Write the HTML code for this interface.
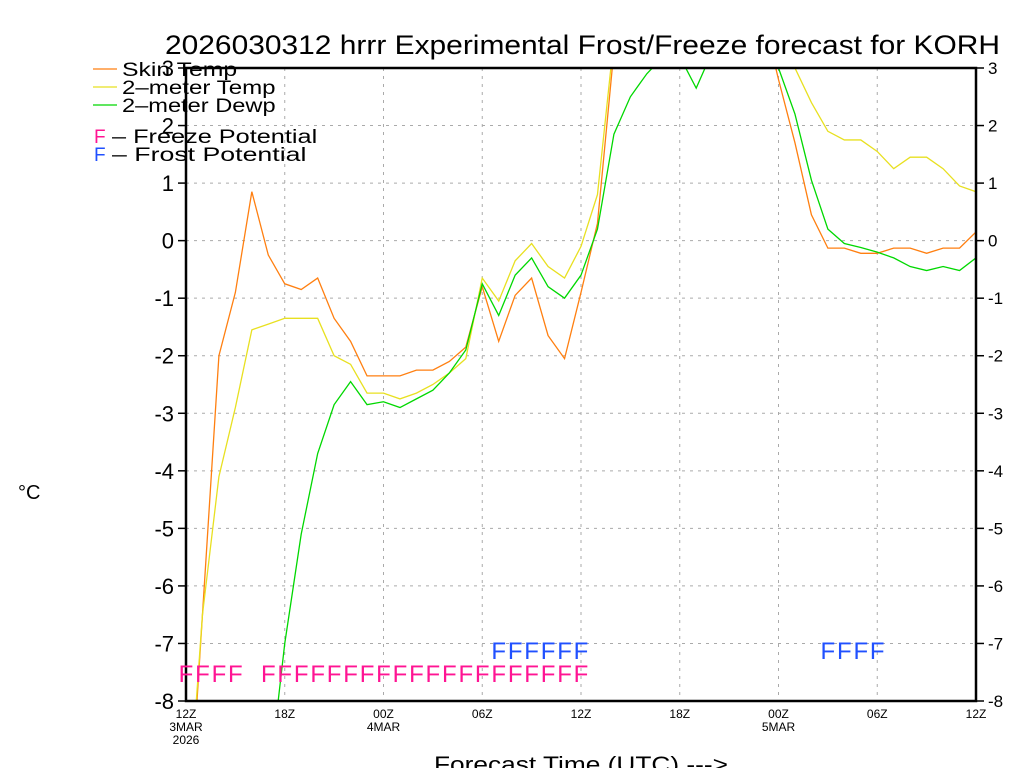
<!DOCTYPE html>
<html><head><meta charset="utf-8"><style>
html,body{margin:0;padding:0;background:#fff;width:1024px;height:768px;overflow:hidden}
svg{overflow:hidden;display:block}
svg text{font-family:"Liberation Sans",sans-serif}
</style></head><body>
<svg id="chart" width="1024" height="768" xmlns="http://www.w3.org/2000/svg">
<defs><clipPath id="plotclip"><rect x="186" y="68" width="790" height="633"/></clipPath>
<clipPath id="pageclip"><rect x="0" y="0" width="1024" height="768"/></clipPath></defs>
<g clip-path="url(#pageclip)">
<text x="165" y="54" font-size="27" textLength="835" lengthAdjust="spacingAndGlyphs">2026030312 hrrr Experimental Frost/Freeze forecast for KORH</text>
<text x="18" y="499" font-size="20">°C</text>
<text x="434" y="772" font-size="22" textLength="294" lengthAdjust="spacingAndGlyphs">Forecast Time (UTC) ---&gt;</text>
</g>
<g id="grid"></g>
<g id="series" clip-path="url(#plotclip)"></g>
<rect x="186" y="68" width="790" height="633" fill="none" stroke="#000" stroke-width="2.5"/>
<g id="axes"></g>
<g id="marks"></g>
<g id="legend"></g>
</svg>
<script>
const hours = [];
for (let i = 0; i <= 48; i++) hours.push(i);
const skinTemp = [-11,-6.5,-2.0,-0.9,0.85,-0.25,-0.75,-0.85,-0.65,-1.35,-1.75,-2.35,-2.35,-2.35,-2.25,-2.25,-2.1,-1.85,-0.8,-1.75,-0.95,-0.65,-1.65,-2.05,-0.9,0.3,3.3,5,5.5,5.5,5.5,5.5,5.5,5.5,5,4,2.8,1.7,0.45,-0.13,-0.13,-0.22,-0.22,-0.13,-0.13,-0.22,-0.13,-0.13,0.15];
const airTemp = [-10.5,-6.5,-4.1,-2.9,-1.55,-1.45,-1.35,-1.35,-1.35,-2.0,-2.15,-2.65,-2.65,-2.75,-2.65,-2.5,-2.3,-2.05,-0.65,-1.05,-0.35,-0.05,-0.45,-0.65,-0.1,0.8,3.5,5,5.5,5.5,5.5,5.5,5.5,5.5,5,4.5,3.8,3.0,2.4,1.9,1.75,1.75,1.55,1.25,1.45,1.45,1.25,0.95,0.85];
const dewPoint = [-16,-15,-14,-13,-12,-9.5,-7.0,-5.1,-3.7,-2.85,-2.45,-2.85,-2.8,-2.9,-2.75,-2.6,-2.3,-1.9,-0.75,-1.3,-0.6,-0.3,-0.8,-1.0,-0.6,0.2,1.85,2.5,2.9,3.2,3.2,2.65,3.3,3.5,3.5,3.4,3.0,2.2,1.05,0.2,-0.05,-0.12,-0.2,-0.3,-0.45,-0.52,-0.45,-0.52,-0.3];
const freezeHours = [0,1,2,3,5,6,7,8,9,10,11,12,13,14,15,16,17,18,19,20,21,22,23,24];
const frostHours = [19,20,21,22,23,24,39,40,41,42];
const yTicks = [-8,-7,-6,-5,-4,-3,-2,-1,0,1,2,3];
const xTickHours = [0,6,12,18,24,30,36,42,48];
const xTickLabels = ["12Z","18Z","00Z","06Z","12Z","18Z","00Z","06Z","12Z"];
const xDateLabels = {0:["3MAR","2026"],12:["4MAR"],36:["5MAR"]};

const X0=186,X1=976,Y0=701,Y1=68,YMIN=-8,YMAX=3,HMAX=48;
const xs = h => X0 + (X1-X0)*h/HMAX;
const ys = v => Y0 - (Y0-Y1)*(v-YMIN)/(YMAX-YMIN);
const NS="http://www.w3.org/2000/svg";
function mk(tag, parent, attrs){const e=document.createElementNS(NS,tag);for(const k in attrs)e.setAttribute(k,attrs[k]);parent.appendChild(e);return e;}

const grid=document.getElementById('grid'), axes=document.getElementById('axes');
yTicks.forEach(v=>{
  const y=ys(v);
  if(v>YMIN&&v<YMAX){const g=mk('line',grid,{x1:X0,x2:X1,y1:y,y2:y,stroke:'#aaa','stroke-dasharray':'3,5'});
  
  }
  const t1=mk('line',axes,{x1:X0-8,x2:X0,y1:y,y2:y,stroke:'#000','stroke-width':1.5});
  
  
  const t2=mk('line',axes,{x1:X1,x2:X1+8,y1:y,y2:y,stroke:'#000','stroke-width':1.5});
  
  
  const l=mk('text',axes,{x:X0-12,y:y+8,'font-size':22,'text-anchor':'end'});
  l.textContent=v;
  
  
  const r=mk('text',axes,{x:X1+12,y:y+6,'font-size':17});
  r.textContent=v;
  
  
});
xTickHours.forEach((h,i)=>{
  const x=xs(h);
  if(h>0&&h<HMAX){const g=mk('line',grid,{x1:x,x2:x,y1:Y1,y2:Y0,stroke:'#aaa','stroke-dasharray':'3,5'});
  
  }
  const l=mk('text',axes,{x:x,y:718,'font-size':12,'text-anchor':'middle'});
  l.textContent=xTickLabels[i];
  
  
  (xDateLabels[h]||[]).forEach((d,j)=>{
    const dl=mk('text',axes,{x:x,y:731+j*13,'font-size':12,'text-anchor':'middle'});
    dl.textContent=d;
    
    
  });
});

const series=document.getElementById('series');
[[skinTemp,'#ff7f10','skin-temp-line'],[airTemp,'#e8e020','air-temp-line'],[dewPoint,'#00d800','dewpoint-line']].forEach(([arr,col,name])=>{
  const p=mk('polyline',series,{points:arr.map((v,i)=>xs(hours[i])+','+ys(v)).join(' '),fill:'none',stroke:col,'stroke-width':1.3});
  
  
});

const marks=document.getElementById('marks');
freezeHours.forEach(h=>{
  const t=mk('text',marks,{x:xs(h),y:682,'font-size':24,'text-anchor':'middle',fill:'#ff1493'});
  t.textContent='F';
  
  
});
frostHours.forEach(h=>{
  const t=mk('text',marks,{x:xs(h),y:659,'font-size':24,'text-anchor':'middle',fill:'#2050ff'});
  t.textContent='F';
  
  
});

const legend=document.getElementById('legend');
[['Skin Temp','#ff7f10',69],['2-meter Temp','#e8e020',87],['2-meter Dewp','#00d800',105]].forEach(([lab,col,y])=>{
  const g=mk('g',legend,{});
  
  
  mk('line',g,{x1:93,x2:117,y1:y,y2:y,stroke:col,'stroke-width':1.3});
  const t=mk('text',g,{x:122,y:y+7,'font-size':19,textLength:lab.length*12.8,lengthAdjust:'spacingAndGlyphs'});
  t.textContent=lab.replace('-','\u2013');
});
[['F','#ff1493',' \u2013 Freeze Potential',143],['F','#2050ff',' \u2013 Frost Potential',161]].forEach(([f,col,lab,y])=>{
  const g=mk('g',legend,{});
  
  
  const a=mk('text',g,{x:94,y:y,'font-size':19,fill:col});a.textContent=f;
  const b=mk('text',g,{x:112,y:y,'font-size':19,textLength:lab.length*10.8,lengthAdjust:'spacingAndGlyphs'});b.textContent=lab;
});
</script>
</body></html>
